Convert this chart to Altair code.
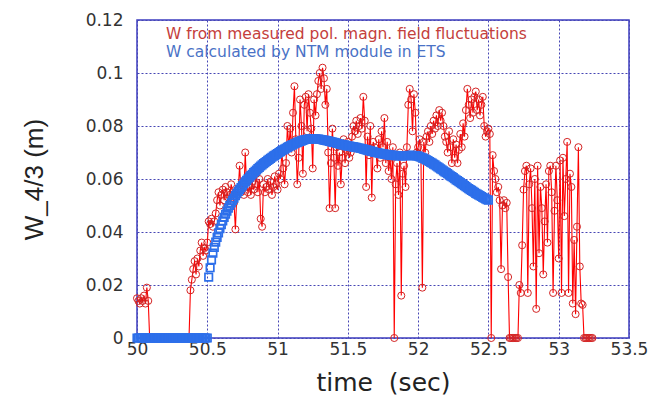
import altair as alt
import pandas as pd

# ---------------- data ----------------
x_ticks = [50, 50.5, 51, 51.5, 52, 52.5, 53, 53.5]
y_ticks = [0, 0.02, 0.04, 0.06, 0.08, 0.1, 0.12]

legend_measured = "W from measured pol. magn. field fluctuations"
legend_calc = "W calculated by NTM module in ETS"

# measured island width, sampled every 0.01 s starting at 50.00 s
measured_t0 = 50.0
measured_dt = 0.01
measured_w = [
    # 50.0x
    0.015, 0.014, 0.013, 0.015, 0.014, 0.016, 0.013, 0.019, 0.014, 0.0,
    # 50.1x
    0, 0, 0, 0, 0, 0, 0, 0, 0, 0,
    # 50.2x
    0, 0, 0, 0, 0, 0, 0, 0, 0, 0,
    # 50.3x
    0, 0, 0, 0, 0, 0, 0, 0, 0.018, 0.022,
    # 50.4x
    0.026, 0.029, 0.024, 0.030, 0.027, 0.033, 0.036, 0.031, 0.034, 0.033,
    # 50.5x
    0.036, 0.044, 0.043, 0.045, 0.042, 0.044, 0.047, 0.052, 0.055, 0.050,
    # 50.6x
    0.054, 0.056, 0.052, 0.057, 0.055, 0.053, 0.054, 0.058, 0.055, 0.051,
    # 50.7x
    0.041, 0.054, 0.056, 0.065, 0.055, 0.058, 0.054, 0.070, 0.057, 0.055,
    # 50.8x
    0.057, 0.054, 0.059, 0.056, 0.058, 0.062, 0.055, 0.060, 0.045, 0.042,
    # 50.9x
    0.058, 0.055, 0.057, 0.060, 0.056, 0.059, 0.054, 0.057, 0.061, 0.058,
    # 51.0x
    0.056, 0.062, 0.060, 0.070, 0.064, 0.058, 0.066, 0.080, 0.072, 0.079,
    # 51.1x
    0.070, 0.085, 0.095, 0.075, 0.058, 0.068, 0.090, 0.080, 0.062, 0.088,
    # 51.2x
    0.091, 0.078, 0.092, 0.085, 0.079, 0.064, 0.090, 0.084, 0.092, 0.097,
    # 51.3x
    0.100, 0.094, 0.102, 0.098, 0.088, 0.094, 0.070, 0.049, 0.066, 0.079,
    # 51.4x
    0.068, 0.049, 0.072, 0.065, 0.070, 0.058, 0.068, 0.075, 0.066, 0.071,
    # 51.5x
    0.074, 0.068, 0.070, 0.076, 0.080, 0.078, 0.082, 0.077, 0.080, 0.083,
    # 51.6x
    0.079, 0.091, 0.082, 0.057, 0.076, 0.069, 0.080, 0.053, 0.074, 0.072,
    # 51.7x
    0.070, 0.064, 0.075, 0.068, 0.078, 0.072, 0.083, 0.066, 0.074, 0.063,
    # 51.8x
    0.068, 0.060, 0.072, 0.0, 0.058, 0.066, 0.054, 0.070, 0.016, 0.062,
    # 51.9x
    0.065, 0.057, 0.072, 0.088, 0.094, 0.090, 0.078, 0.092, 0.085, 0.070,
    # 52.0x
    0.072, 0.075, 0.068, 0.019, 0.074, 0.070, 0.076, 0.078, 0.074, 0.080,
    # 52.1x
    0.077, 0.082, 0.079, 0.084, 0.080, 0.086, 0.082, 0.085, 0.080, 0.076,
    # 52.2x
    0.074, 0.070, 0.078, 0.072, 0.066, 0.075, 0.068, 0.073, 0.066, 0.071,
    # 52.3x
    0.077, 0.072, 0.081, 0.076, 0.086, 0.094, 0.088, 0.083, 0.090, 0.085,
    # 52.4x
    0.091, 0.093, 0.086, 0.090, 0.084, 0.088, 0.091, 0.080, 0.076, 0.078,
    # 52.5x
    0.079, 0.077, 0.0, 0.069, 0.063, 0.060, 0.055, 0.057, 0.052, 0.026,
    # 52.6x
    0.050, 0.052, 0.049, 0.051, 0.023, 0.0, 0.0, 0.0, 0.0, 0.0,
    # 52.7x
    0.0, 0.0, 0.020, 0.017, 0.035, 0.056, 0.063, 0.065, 0.017, 0.058,
    # 52.8x
    0.064, 0.049, 0.027, 0.060, 0.011, 0.065, 0.032, 0.057, 0.049, 0.024,
    # 52.9x
    0.044, 0.058, 0.036, 0.063, 0.065, 0.055, 0.017, 0.048, 0.065, 0.052,
    # 53.0x
    0.030, 0.067, 0.017, 0.068, 0.046, 0.060, 0.074, 0.017, 0.062, 0.057,
    # 53.1x
    0.013, 0.037, 0.009, 0.042, 0.072, 0.027, 0.013, 0.0125, 0.0, 0.0,
    # 53.2x
    0.0, 0.0, 0.0, 0.0, 0.0,
]

# NTM-module calculation, every 0.01 s
# zero part, 50.00 .. 50.50
calc_zero_t0 = 50.0
calc_zero_w = [0.0] * 51

# growth, 50.51 .. 52.50
calc_grow_t0 = 50.51
calc_grow_w = [
    0.0230, 0.0265, 0.0295, 0.0320, 0.0342, 0.0362, 0.0380, 0.0397, 0.0413, 0.0428,
    0.0442, 0.0455, 0.0467, 0.0479, 0.0490, 0.0500, 0.0510, 0.0519, 0.0528, 0.0537,
    0.0545, 0.0553, 0.0561, 0.0568, 0.0575, 0.0582, 0.0589, 0.0595, 0.0601, 0.0607,
    0.0613, 0.0618, 0.0624, 0.0629, 0.0634, 0.0639, 0.0644, 0.0649, 0.0653, 0.0658,
    0.0662, 0.0666, 0.0670, 0.0674, 0.0678, 0.0682, 0.0686, 0.0689, 0.0693, 0.0696,
    0.0700, 0.0703, 0.0707, 0.0710, 0.0713, 0.0716, 0.0719, 0.0722, 0.0725, 0.0728,
    0.0730, 0.0733, 0.0735, 0.0738, 0.0740, 0.0742, 0.0744, 0.0746, 0.0748, 0.0749,
    0.0750, 0.0751, 0.0751, 0.0752, 0.0752, 0.0752, 0.0752, 0.0751, 0.0751, 0.0750,
    0.0749, 0.0748, 0.0747, 0.0746, 0.0745, 0.0744, 0.0742, 0.0741, 0.0739, 0.0738,
    0.0737, 0.0735, 0.0734, 0.0732, 0.0731, 0.0730, 0.0729, 0.0728, 0.0726, 0.0725,
    0.0724, 0.0723, 0.0722, 0.0721, 0.0720, 0.0719, 0.0718, 0.0717, 0.0716, 0.0715,
    0.0713, 0.0712, 0.0710, 0.0709, 0.0707, 0.0706, 0.0704, 0.0703, 0.0701, 0.0700,
    0.0699, 0.0698, 0.0697, 0.0696, 0.0695, 0.0694, 0.0693, 0.0692, 0.0691, 0.0690,
    0.0690, 0.0689, 0.0689, 0.0688, 0.0688, 0.0688, 0.0688, 0.0688, 0.0688, 0.0688,
    0.0688, 0.0688, 0.0688, 0.0689, 0.0689, 0.0689, 0.0688, 0.0688, 0.0687, 0.0686,
    0.0684, 0.0682, 0.0680, 0.0678, 0.0675, 0.0672, 0.0669, 0.0666, 0.0663, 0.0660,
    0.0656, 0.0653, 0.0649, 0.0646, 0.0642, 0.0638, 0.0635, 0.0631, 0.0627, 0.0624,
    0.0620, 0.0616, 0.0612, 0.0609, 0.0605, 0.0601, 0.0597, 0.0594, 0.0590, 0.0586,
    0.0582, 0.0579, 0.0575, 0.0571, 0.0567, 0.0564, 0.0560, 0.0557, 0.0553, 0.0550,
    0.0546, 0.0543, 0.0540, 0.0537, 0.0534, 0.0531, 0.0528, 0.0525, 0.0522, 0.0520,
]
calc_dt = 0.01

# ---------------- tables ----------------
def sampled(t0, dt, values):
    return pd.DataFrame({
        "t": [round(t0 + i * dt, 3) for i in range(len(values))],
        "w": values,
    })

measured = sampled(measured_t0, measured_dt, measured_w)
calc = pd.concat([
    sampled(calc_zero_t0, calc_dt, calc_zero_w),
    sampled(calc_grow_t0, calc_dt, calc_grow_w),
], ignore_index=True)

GRID = "#4646b4"
FRAME = "#3c3cc0"

x_enc = alt.X(
    "t:Q",
    scale=alt.Scale(domain=[50, 53.5], nice=False, zero=False),
    axis=alt.Axis(
        values=x_ticks, format=".1~f", title="time \u00a0(sec)",
        labelFont="DejaVu Sans", labelFontSize=17, labelColor="#333333",
        labelPadding=3, labelFlush=False, labelOverlap=False,
        ticks=False, domain=False,
        grid=True, gridColor=GRID, gridDash=[2, 2], gridWidth=1,
        titleFont="DejaVu Sans", titleFontSize=25, titleFontWeight="normal",
        titleColor="#222222", titlePadding=13,
    ),
)
y_enc = alt.Y(
    "w:Q",
    scale=alt.Scale(domain=[0, 0.12], nice=False, zero=True),
    axis=alt.Axis(
        values=y_ticks, format=".2~f", title="W_4/3 (m)",
        labelFont="DejaVu Sans", labelFontSize=17, labelColor="#333333",
        labelPadding=14, labelOverlap=False,
        ticks=False, domain=False,
        grid=True, gridColor=GRID, gridDash=[2, 2], gridWidth=1,
        titleFont="Liberation Sans", titleFontSize=26, titleFontWeight="normal",
        titleColor="#222222", titlePadding=38,
    ),
)

base_m = alt.Chart(measured).encode(x=x_enc, y=y_enc)
m_line = base_m.mark_line(color="#ff0000", strokeWidth=1.1, clip=False)
m_pts = base_m.mark_point(shape="circle", filled=False, color="#d42424",
                          size=50, strokeWidth=1, opacity=1, clip=False)

c_pts = alt.Chart(calc).mark_point(
    shape="square", filled=False, color="#2d6fea", size=56, strokeWidth=1.7,
    opacity=1, clip=False,
).encode(x=x_enc, y=y_enc)

t1 = alt.Chart(pd.DataFrame({"label": [legend_measured]})).mark_text(
    align="left", baseline="middle", font="DejaVu Sans", fontSize=15.5,
    color="#c4403c",
).encode(x=alt.value(29), y=alt.value(14), text="label:N")
t2 = alt.Chart(pd.DataFrame({"label": [legend_calc]})).mark_text(
    align="left", baseline="middle", font="DejaVu Sans", fontSize=15.5,
    color="#4a72c6",
).encode(x=alt.value(29), y=alt.value(32), text="label:N")

chart = alt.layer(m_line, m_pts, c_pts, t1, t2).properties(
    width=492, height=318, autosize="none",
    padding={"left": 137, "top": 20, "right": 23, "bottom": 58},
    background="white",
).configure_view(stroke=FRAME, strokeWidth=1.5)

chart.save("out.html", embed_options={"renderer": "svg", "actions": False})
